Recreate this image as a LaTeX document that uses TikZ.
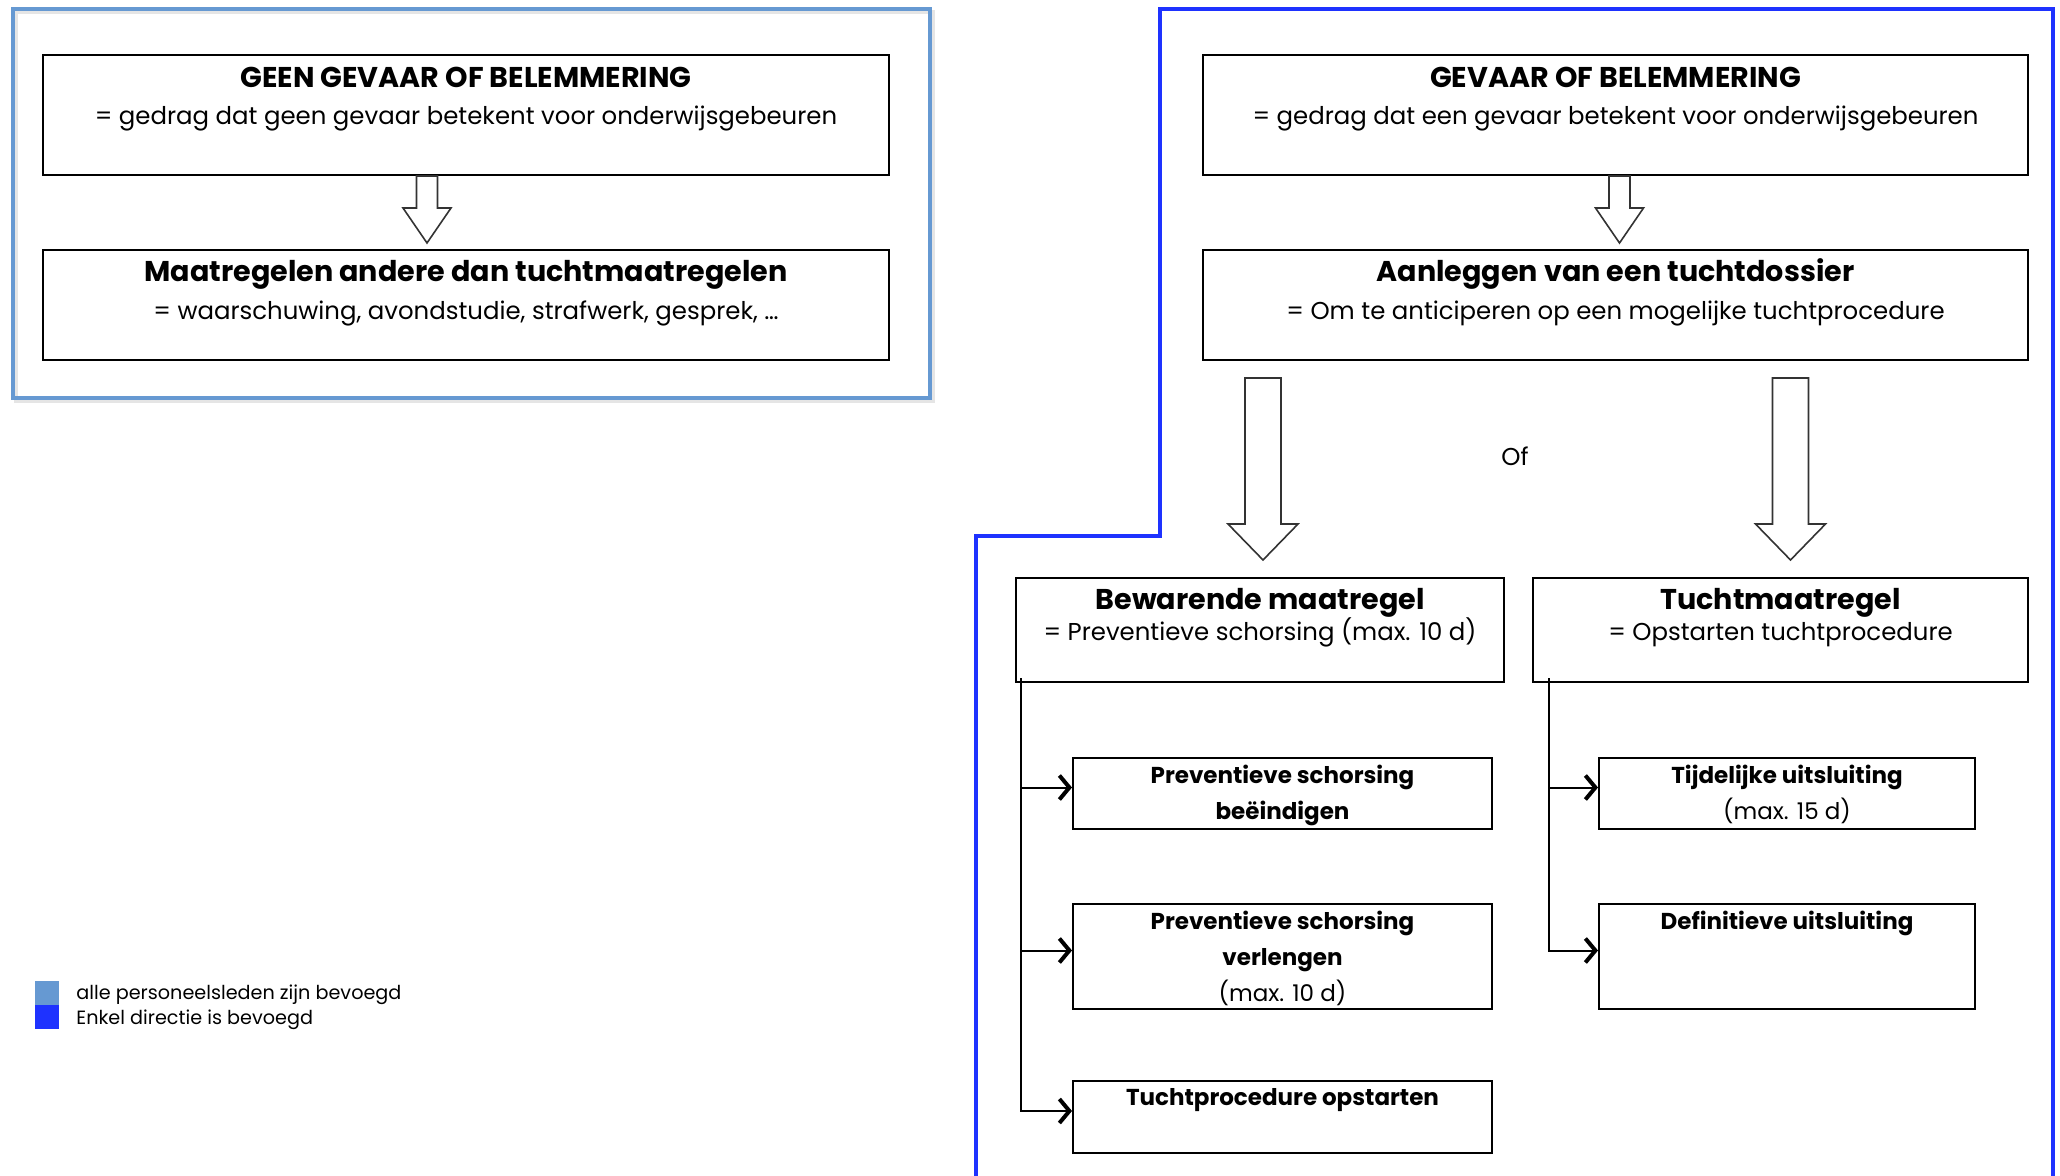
\documentclass[tikz,border=0pt]{standalone}
\usepackage{fontspec}
\setmainfont{Poppins}
\usepackage{tikz}
\usetikzlibrary{arrows.meta, positioning, calc}

\definecolor{alleblauw}{RGB}{102,153,210}
\definecolor{directieblauw}{RGB}{30,50,255}

\tikzset{
  vak/.style={rectangle, draw, line width=1pt, inner sep=0pt},
  titel/.style={anchor=base, inner sep=0pt, font=\bfseries\fontsize{14.3}{16}\selectfont},
  uitleg/.style={anchor=base, inner sep=0pt, font=\fontsize{12.2}{14}\selectfont},
  kleintekst/.style={anchor=north, inner sep=0pt, align=center, font=\bfseries\fontsize{11.5}{18}\selectfont},
  legenda/.style={anchor=base west, inner sep=0pt, font=\fontsize{9.6}{11}\selectfont},
  kader/.style={line width=2pt, line join=miter},
  pijlvlak/.style={draw=black!80, fill=white, line width=0.8pt, line join=miter},
  tak/.style={line width=1pt, -{Straight Barb[length=5pt, width=12pt, line width=2pt]}},
}

% hollow block arrow: from, tip, half shaft, half head, head length (in px)
\newcommand{\blokpijl}[5]{%
  \draw[pijlvlak] let \p1=(#1), \p2=(#2) in
    (\x1-#3*0.5pt,\y1) -- (\x1+#3*0.5pt,\y1) -- (\x1+#3*0.5pt,\y2+#5*0.5pt)
    -- (\x1+#4*0.5pt,\y2+#5*0.5pt) -- (\x1,\y2) -- (\x1-#4*0.5pt,\y2+#5*0.5pt)
    -- (\x1-#3*0.5pt,\y2+#5*0.5pt) -- cycle;
}

\begin{document}
\begin{tikzpicture}[x=0.5pt, y=-0.5pt]
  \useasboundingbox (0,0) rectangle (2060,1176);

  % frames
  \draw[kader, black!10] (16,12) rectangle (933,401);
  \draw[kader, alleblauw] (13,9) rectangle (930,398);
  \draw[kader, directieblauw] (976,1185) -- (976,536) -- (1160,536) -- (1160,9) -- (2053,9) -- (2053,1185);

  % left part
  \node[vak, minimum width=423pt, minimum height=60pt] (geen) at (466,115) {};
  \node[titel] (geentitel) at ($(geen.north)+(0,34)$) {GEEN GEVAAR OF BELEMMERING};
  \node[uitleg] (geenuitleg) at ($(geen.north)+(0,71)$) {= gedrag dat geen gevaar betekent voor onderwijsgebeuren};

  \node[vak, minimum width=423pt, minimum height=55pt] (andere) at (466,305) {};
  \node[titel] (anderetitel) at ($(andere.north)+(0,33)$) {Maatregelen andere dan tuchtmaatregelen};
  \node[uitleg] (andereuitleg) at ($(andere.north)+(0,71)$) {= waarschuwing, avondstudie, strafwerk, gesprek, \dots};

  \blokpijl{$(geen.south)+(-39,0)$}{$(andere.north)+(-39,-6)$}{10.5}{24}{35}

  % right part
  \node[vak, minimum width=412.5pt, minimum height=60pt] (gevaar) at (1615.5,115) {};
  \node[titel] (gevaartitel) at ($(gevaar.north)+(0,34)$) {GEVAAR OF BELEMMERING};
  \node[uitleg] (gevaaruitleg) at ($(gevaar.north)+(0,71)$) {= gedrag dat een gevaar betekent voor onderwijsgebeuren};

  \node[vak, minimum width=412.5pt, minimum height=55pt] (dossier) at (1615.5,305) {};
  \node[titel] (dossiertitel) at ($(dossier.north)+(0,33)$) {Aanleggen van een tuchtdossier};
  \node[uitleg] (dossieruitleg) at ($(dossier.north)+(0,71)$) {= Om te anticiperen op een mogelijke tuchtprocedure};

  \blokpijl{$(gevaar.south)+(4,0)$}{$(dossier.north)+(4,-6)$}{10.5}{24}{35}

  \node[vak, minimum width=244pt, minimum height=52pt] (bewarend) at (1260,630) {};
  \node[titel] (bewarendtitel) at ($(bewarend.north)+(0,32)$) {Bewarende maatregel};
  \node[uitleg] (bewarenduitleg) at ($(bewarend.north)+(0,63)$) {= Preventieve schorsing (max. 10 d)};

  \node[vak, minimum width=247.5pt, minimum height=52pt] (tucht) at (1780.5,630) {};
  \node[titel] (tuchttitel) at ($(tucht.north)+(0,32)$) {Tuchtmaatregel};
  \node[uitleg] (tuchtuitleg) at ($(tucht.north)+(0,63)$) {= Opstarten tuchtprocedure};

  \blokpijl{$(bewarend.north|-dossier.south)+(3,17)$}{$(bewarend.north)+(3,-17)$}{18}{35}{36}
  \blokpijl{$(tucht.north|-dossier.south)+(10,17)$}{$(tucht.north)+(10,-17)$}{18}{35}{36}
  \node[uitleg, anchor=center] (of) at (1515,456) {Of};

  % sub boxes
  \node[vak, minimum width=209.5pt, minimum height=35.5pt] (beeindigen) at (1282.5,793.5) {};
  \node[kleintekst] (beeindigentekst) at ($(beeindigen.north)+(0,8)$) {Preventieve schorsing\\beëindigen};
  \node[vak, minimum width=209.5pt, minimum height=52.5pt] (verlengen) at (1282.5,956.5) {};
  \node[kleintekst] (verlengentekst) at ($(verlengen.north)+(0,8)$) {Preventieve schorsing\\verlengen\\\mdseries(max. 10 d)};
  \node[vak, minimum width=209.5pt, minimum height=36pt] (opstarten) at (1282.5,1117) {};
  \node[kleintekst] (opstartentekst) at ($(opstarten.north)+(0,8)$) {Tuchtprocedure opstarten};

  \node[vak, minimum width=188pt, minimum height=35.5pt] (tijdelijk) at (1787,793.5) {};
  \node[kleintekst] (tijdelijktekst) at ($(tijdelijk.north)+(0,8)$) {Tijdelijke uitsluiting\\\mdseries(max. 15 d)};
  \node[vak, minimum width=188pt, minimum height=52.5pt] (definitief) at (1787,956.5) {};
  \node[kleintekst] (definitieftekst) at ($(definitief.north)+(0,8)$) {Definitieve uitsluiting};

  % branches
  \coordinate (lstart) at ($(bewarend.south west)+(6,-5)$);
  \coordinate (rstart) at ($(tucht.south west)+(17,-5)$);
  \draw[tak] (lstart) |- ([yshift=3pt]beeindigen.west);
  \draw[tak] (lstart) |- ([yshift=3pt]verlengen.west);
  \draw[tak] (lstart) |- ([yshift=3pt]opstarten.west);
  \draw[tak] (rstart) |- ([yshift=3pt]tijdelijk.west);
  \draw[tak] (rstart) |- ([yshift=3pt]definitief.west);

  % legend
  \fill[alleblauw] (35,981) rectangle (59,1005);
  \fill[directieblauw] (35,1005) rectangle (59,1029);
  \node[legenda] (alle) at (76,999) {alle personeelsleden zijn bevoegd};
  \node[legenda] (directie) at (76,1024) {Enkel directie is bevoegd};
\end{tikzpicture}
\end{document}
